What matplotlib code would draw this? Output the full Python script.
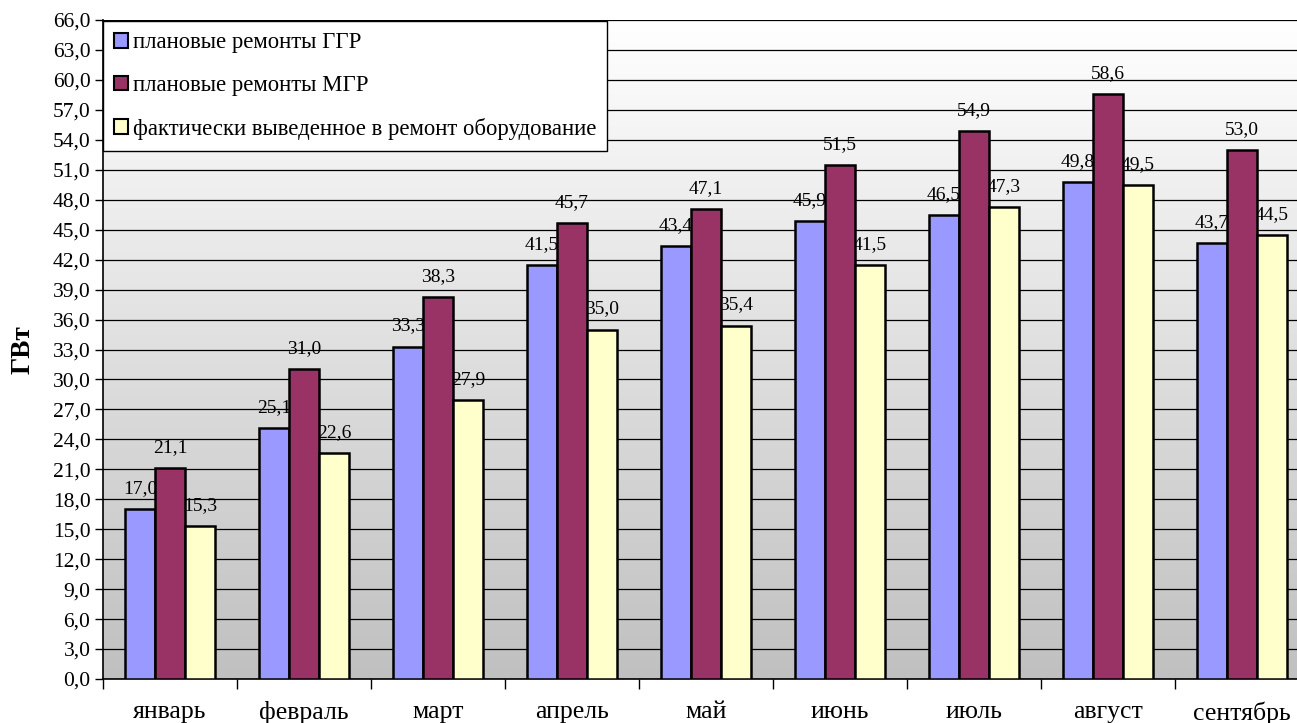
import numpy as np
import matplotlib
matplotlib.use("Agg")
import matplotlib.pyplot as plt
from matplotlib.colors import LinearSegmentedColormap
from matplotlib.patches import Patch

plt.rcParams['font.family'] = ['Liberation Serif', 'DejaVu Serif']

months = ["январь", "февраль", "март", "апрель", "май", "июнь", "июль", "август", "сентябрь"]
ggr = [17.0, 25.1, 33.3, 41.5, 43.4, 45.9, 46.5, 49.8, 43.7]
mgr = [21.1, 31.0, 38.3, 45.7, 47.1, 51.5, 54.9, 58.6, 53.0]
fact = [15.3, 22.6, 27.9, 35.0, 35.4, 41.5, 47.3, 49.5, 44.5]
series_names = ["плановые ремонты ГГР", "плановые ремонты МГР",
                "фактически выведенное в ремонт оборудование"]
colors = ["#9999FF", "#993366", "#FFFFCC"]

W, H = 1297, 723
fig = plt.figure(figsize=(W / 100, H / 100), dpi=100)
ax = fig.add_axes([103 / W, 1 - 679 / H, 1206 / W, 659 / H])

n = len(months)
x = np.arange(n)
ymax = 66.0
ax.set_xlim(-0.5, n - 0.5)
ax.set_ylim(0, ymax)

# vertical grey-to-white gradient behind the plot area
cmap = LinearSegmentedColormap.from_list("bg", ["#C0C0C0", "#FFFFFF"])
grad = np.linspace(0, 1, 256).reshape(-1, 1)
ax.imshow(grad, extent=[-0.5, n - 0.5, 0, ymax], origin="lower",
          aspect="auto", cmap=cmap, zorder=0)

# horizontal grid
yticks = np.arange(0, ymax + 0.01, 3.0)
for yv in yticks:
    ax.axhline(yv, color="black", lw=0.9, zorder=1)

bw = 0.224
offsets = [-bw, 0.0, bw]
for vals, col, off, name in zip([ggr, mgr, fact], colors, offsets, series_names):
    ax.bar(x + off, vals, width=bw, color=col, edgecolor="black",
           linewidth=1.8, zorder=3, label=name)
    for xi, v in zip(x + off, vals):
        ax.annotate(f"{v:.1f}".replace(".", ","), xy=(xi, v), xytext=(0, 11.5),
                    textcoords="offset points", ha="center", va="baseline",
                    fontsize=14, zorder=2)

# axes styling
ax.set_yticks(yticks)
ax.set_yticklabels([f"{v:.1f}".replace(".", ",") for v in yticks], fontsize=15.5)
ax.tick_params(axis="y", direction="out", length=6, width=1, pad=3)

ax.set_xticks(x)
ax.set_xticklabels(months, fontsize=18.5)
ax.set_xticks(np.arange(-0.5, n, 1.0), minor=True)
ax.tick_params(axis="x", which="major", length=0, pad=16)
ax.tick_params(axis="x", which="minor", direction="out", length=7, width=1)

for side in ["top", "right"]:
    ax.spines[side].set_visible(False)
ax.spines["left"].set_linewidth(1.2)
ax.spines["bottom"].set_linewidth(1.2)

ax.set_ylabel("ГВт", fontsize=19.5, fontweight="bold")
ax.yaxis.set_label_coords(-67 / 1206, 0.5)

handles = [Patch(facecolor=c, edgecolor="black", linewidth=1.5) for c in colors]
leg = ax.legend(handles, series_names, loc="upper left",
                bbox_to_anchor=(0.0, 1 - 1 / 659), fontsize=16.4,
                frameon=True, fancybox=False, framealpha=1,
                edgecolor="black", facecolor="white",
                handlelength=0.6, handleheight=0.6, handletextpad=0.2,
                labelspacing=0.95, borderpad=0.5, borderaxespad=0)
leg.get_frame().set_linewidth(1.0)
leg.set_zorder(5)

fig.savefig("out.png", dpi=100)
